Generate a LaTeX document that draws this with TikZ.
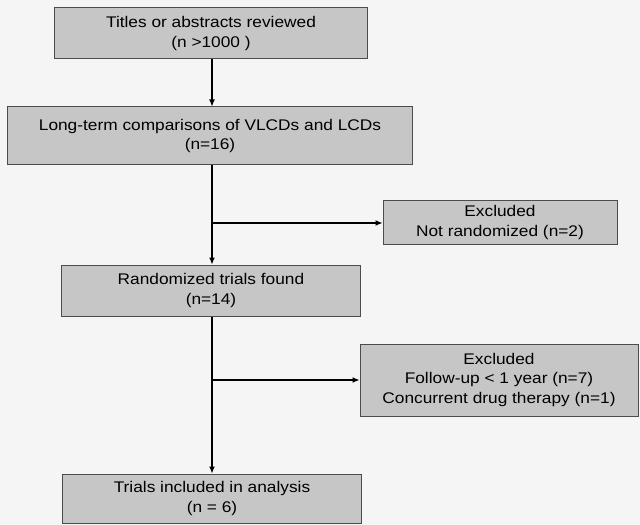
\documentclass[tikz,border=0pt]{standalone}
\usepackage{fontspec}
\setmainfont{Liberation Sans}[FakeStretch=1.12]
\usepackage{tikz}
\usetikzlibrary{arrows.meta}

\begin{document}
\begin{tikzpicture}[x=1bp,y=-1bp,
    box/.style={draw=black!70,line width=1bp,fill=gray!45,align=center,
      inner sep=0pt,font=\fontsize{15.5}{20}\selectfont},
    arr/.style={-{Latex[length=7bp,width=6bp]},line width=1.2bp,black}]
          \useasboundingbox[fill=black!4] (0,0) rectangle (640,525);

          \node[box,minimum width=312bp,minimum height=51bp] (titles) at (211,33.5)
            {Titles or abstracts reviewed\\(n >1000 )};
          \node[box,minimum width=404bp,minimum height=58bp] (longterm) at (210,136)
            {Long-term comparisons of VLCDs and LCDs\\(n=16)};
          \node[box,minimum width=298bp,minimum height=51bp] (random) at (211,290.5)
            {Randomized trials found\\(n=14)};
          \node[box,minimum width=298bp,minimum height=49bp] (included) at (212,498.5)
            {Trials included in analysis\\(n = 6)};

          % excluded boxes
          \node[box,minimum width=234bp,minimum height=43bp] (excl1) at (500,222.5)
            {Excluded\\Not randomized (n=2)};
          \node[box,minimum width=278bp,minimum height=72bp] (excl2) at (499,380)
            {Excluded\\Follow-up < 1 year (n=7)\\Concurrent drug therapy (n=1)};

          \coordinate (split1) at (212,223);
          \coordinate (split2) at (212,380);

          \draw[arr] (titles.south -| split1) -- (longterm.north -| split1);
          \draw[arr] (longterm.south -| split1) -- (random.north -| split1);
          \draw[arr] (random.south -| split2) -- (included.north -| split2);

          % branches
          \draw[arr] (split1) -- (split1 -| excl1.west);
          \draw[arr] (split2) -- (split2 -| excl2.west);
\end{tikzpicture}
\end{document}
